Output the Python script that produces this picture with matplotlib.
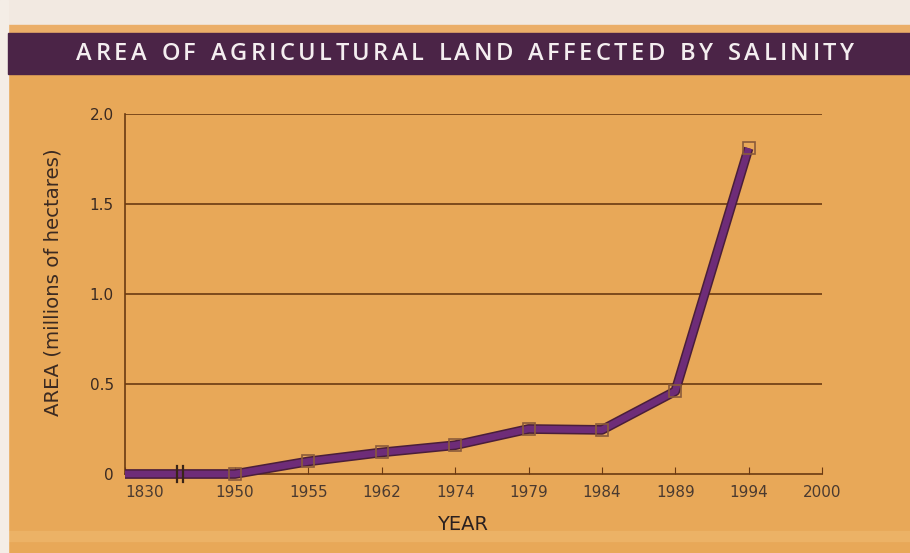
import matplotlib
matplotlib.use("Agg")
import matplotlib.pyplot as plt
from matplotlib.patches import Rectangle

# Data
years = ["1830", "1950", "1955", "1962", "1974", "1979", "1984", "1989", "1994", "2000"]
area = [0.0, 0.0, 0.07, 0.12, 0.16, 0.25, 0.245, 0.46, 1.81]
y_ticks = [0, 0.5, 1.0, 1.5, 2.0]
y_tick_labels = ["0", "0.5", "1.0", "1.5", "2.0"]

title = "AREA OF AGRICULTURAL LAND AFFECTED BY SALINITY"
ylabel = "AREA (millions of hectares)"
xlabel = "YEAR"

# Colours
bg = "#E8A858"
band = "#4B2447"
grid_c = "#6B3A12"
line_c = "#6E2C78"
text_c = "#3A2A22"

# Category positions: a broken axis between 1830 and 1950
xpos = [0.0] + [1.5 + i for i in range(len(years) - 1)]

W, H = 910, 553
fig = plt.figure(figsize=(W / 100, H / 100), dpi=100)
fig.patch.set_facecolor(bg)

# Frame strips and title band
fig.add_artist(Rectangle((0, 1 - 25 / H), 1, 25 / H, transform=fig.transFigure,
                         color="#F2E9E1", zorder=0))
fig.add_artist(Rectangle((0, 1 - 33 / H), 1, 8 / H, transform=fig.transFigure,
                         color="#EBAE68", zorder=0))
fig.add_artist(Rectangle((0, 12 / H), 1, 10 / H, transform=fig.transFigure,
                         color="#ECB266", zorder=0))
fig.add_artist(Rectangle((0, 0), 8 / W, 1, transform=fig.transFigure,
                         color="#F4EDE6", zorder=0))
fig.add_artist(Rectangle((8 / W, 1 - 74 / H), 1, 41 / H, transform=fig.transFigure,
                         color=band, zorder=1))

# Title with wide letter tracking, laid out character by character
renderer = fig.canvas.get_renderer()
title_kw = dict(color="#F4EEF0", fontsize=17, family="Open Sans", weight="semibold",
                va="center", ha="left", zorder=2)
tracking = 3.4  # extra pixels between letters
widths = []
for ch in title:
    t = fig.text(0, 0, ch if ch != " " else "n", **title_kw)
    w = t.get_window_extent(renderer).width
    widths.append(w * (0.55 if ch == " " else 1.0))
    t.remove()
total = sum(widths) + tracking * (len(title) - 1)
x = 465 - total / 2
for ch, w in zip(title, widths):
    if ch != " ":
        fig.text(x / W, 1 - 54 / H, ch, **title_kw)
    x += w + tracking

# Plot area in pixels: x 125..822, y 114..474
ax = fig.add_axes([125 / W, 1 - 474 / H, (822 - 125) / W, (474 - 114) / H])
ax.set_facecolor("none")
ax.set_xlim(xpos[0], xpos[-1])
ax.set_ylim(0, 2.0)

for v in y_ticks[1:]:
    ax.axhline(v, color=grid_c, lw=1.2, zorder=1)

for s in ["top", "right"]:
    ax.spines[s].set_visible(False)
for s in ["left", "bottom"]:
    ax.spines[s].set_color(grid_c)
    ax.spines[s].set_linewidth(1.2)

ax.set_yticks(y_ticks)
ax.set_yticklabels(y_tick_labels)
ax.tick_params(axis="y", length=0, pad=8, labelsize=11, labelcolor=text_c)
ax.set_xticks(xpos)
ax.set_xticklabels(years)
ax.tick_params(axis="x", direction="in", length=5, color=grid_c, pad=8,
               labelsize=11, labelcolor="#4A3A30")
ax.get_xticklabels()[0].set_horizontalalignment("left")

# Series line with a darker shadow stroke underneath
xs = xpos[:len(area)]
ax.plot(xs, area, color="#4A1E3A", lw=7, solid_joinstyle="round",
        solid_capstyle="butt", zorder=3, clip_on=False)
ax.plot(xs, area, color=line_c, lw=4.8, solid_joinstyle="round",
        solid_capstyle="butt", zorder=4, clip_on=False)
ax.plot(xs[1:], area[1:], ls="none", marker="s", ms=9, mfc="none",
        mec="#8A5A3A", mew=1.2, zorder=5, clip_on=False)

# Axis break marks
brk = (xpos[0] + xpos[1]) / 2
for dx in (-0.045, 0.045):
    ax.plot([brk + dx, brk + dx], [-0.045, 0.045], color="#3A2418", lw=1.6,
            zorder=6, clip_on=False)

ax.set_ylabel(ylabel, fontsize=14.2, color=text_c, va="center")
ax.yaxis.set_label_coords((53 - 125) / 697, (474 - 282) / 360)
ax.set_xlabel(xlabel, fontsize=14, color="#2A2020", va="center")
ax.xaxis.set_label_coords((463 - 125) / 697, -(525 - 474) / 360)

fig.savefig("out.png", dpi=100, facecolor=fig.get_facecolor())
